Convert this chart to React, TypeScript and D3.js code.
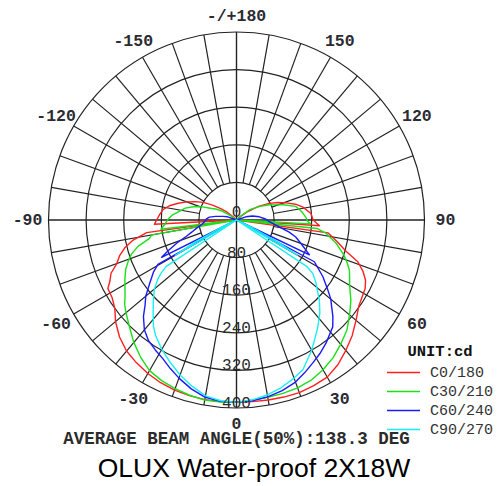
import React from 'react';
import * as d3 from 'd3';

const ringValues = [80, 160, 240, 320, 400];
const ringLabels = ['0', '80', '160', '240', '320', '400'];
const ringLabelValues = [0, 80, 160, 240, 320, 400];
const angleLabelDegs = [180, -150, 150, -120, 120, -90, 90, -60, 60, -30, 30, 0];
const angleLabelTexts = ['-/+180', '-150', '150', '-120', '120', '-90', '90', '-60', '60', '-30', '30', '0'];
const seriesNames = ['C0/180', 'C30/210', 'C60/240', 'C90/270'];

const c0_180: [number, number][] = [
  [-180, 0], [-138, 0], [-134, 10], [-130, 25], [-126, 40], [-122, 60], [-118, 80], [-114, 96], [-110, 113],
  [-106, 129], [-102, 146], [-98, 158], [-94, 164], [-90, 170], [-87, 175], [-84.5, 0], [-82, 193], [-79, 224],
  [-76, 245], [-73, 260], [-70, 271], [-67, 290], [-64, 300], [-62, 310], [-58, 312], [-54, 320], [-50, 336],
  [-45, 352], [-40, 364], [-35, 371], [-30, 377], [-25, 382], [-20, 385], [-15, 387], [-10, 388], [-5, 388],
  [0, 388], [5, 388], [10, 389], [15, 390], [20, 391], [25, 389], [30, 386], [35, 376], [40, 362], [45, 348],
  [50, 332], [55, 318], [58, 314], [62, 310], [65, 303], [68, 290], [71, 273], [74, 243], [78, 218], [82, 197],
  [84, 0], [86, 177], [90, 163], [95, 159], [101, 144], [105, 130], [109, 112], [113, 95], [117, 78], [122, 55],
  [127, 30], [132, 10], [137, 0], [180, 0],
];

const c30_210: [number, number][] = [
  [-180, 0], [-130, 0], [-126, 15], [-122, 35], [-118, 50], [-115, 58], [-111, 78], [-108, 93], [-103, 112],
  [-98, 125], [-94, 138], [-91, 145], [-87, 152], [-83, 162], [-81.5, 0], [-80, 183], [-78, 190], [-75, 217],
  [-72, 235], [-69, 247], [-66, 258], [-62, 269], [-56, 286], [-53, 298], [-50, 307], [-45, 322], [-40, 340],
  [-35, 356], [-30, 370], [-25, 377], [-20, 382], [-15, 386], [-10, 389], [-5, 389], [0, 388], [5, 385],
  [10, 383], [15, 382], [20, 380], [25, 376], [30, 368], [35, 358], [40, 345], [45, 332], [48, 321], [52, 307],
  [55, 297], [60, 278], [63, 270], [66, 263], [69, 252], [72, 240], [77, 217], [81.5, 193], [84, 172],
  [85.5, 0], [87, 158], [89, 151], [92, 148], [96, 142], [100, 135], [103, 129], [108, 105], [111, 90],
  [115, 77], [120, 58], [125, 42], [128, 35], [132, 15], [135, 0], [180, 0],
];

const c60_240: [number, number][] = [
  [-180, 0], [-115, 0], [-110, 20], [-105, 30], [-100, 45], [-96, 58], [-92, 64], [-87, 68], [-83, 74],
  [-78, 88], [-75, 98], [-72, 112], [-69, 135], [-66, 158], [-63.5, 178], [-62, 0], [-60.5, 192], [-58, 208],
  [-54, 228], [-50, 252], [-47, 266], [-44, 285], [-40, 305], [-36, 318], [-32, 326], [-28, 334], [-24, 346],
  [-20, 358], [-15, 372], [-10, 383], [-5, 387], [0, 388], [5, 386], [10, 382], [15, 376], [20, 367],
  [24, 356], [28, 345], [32, 335], [36, 324], [42, 306], [45, 290], [48, 272], [50, 262], [52.5, 245],
  [56.7, 220], [61.8, 188], [63, 0], [64.5, 172], [66.6, 161], [70, 146], [74, 131], [77, 115], [81, 92],
  [87, 70], [92, 62], [98, 49], [104, 35], [109, 21], [115, 0], [180, 0],
];

const c90_270: [number, number][] = [
  [-180, 0], [-66, 0], [-64, 40], [-62, 100], [-60, 150], [-58, 0], [-56.5, 180], [-55, 195], [-53, 210],
  [-50, 228], [-46, 246], [-42, 265], [-38, 287], [-35, 300], [-30, 318], [-25, 334], [-20, 351], [-15, 366],
  [-10, 380], [-5, 386], [0, 388], [5, 384], [10, 378], [15, 369], [20, 358], [24, 348], [30, 320], [34, 300],
  [37, 287], [42, 265], [46, 245], [49, 228], [52, 214], [55, 198], [56.5, 180], [58, 0], [60, 150],
  [62, 100], [64, 40], [66, 0], [180, 0],
];

const seriesData = [c0_180, c30_210, c60_240, c90_270];
const seriesColors = ['#ff1f1f', '#19e019', '#1a1aff', '#19eef2'];

const CX = 236.5;
const CY = 220;
const R = 188;
const MONO = '"Liberation Mono", "DejaVu Sans Mono", monospace';

export default function App() {
  const r = d3.scaleLinear().domain([0, 400]).range([0, R]);
  const line = d3
    .lineRadial<[number, number]>()
    .angle((d) => Math.PI - (d[0] * Math.PI) / 180)
    .radius((d) => r(d[1]))
    .curve(d3.curveLinear);

  const spokes = d3.range(-180, 180, 10);
  const rad = (deg: number) => (deg * Math.PI) / 180;

  return (
    <svg
      width={500}
      height={486}
      style={{ position: 'absolute', left: 0, top: 0, background: '#fff' }}
    >
      <rect x={0} y={0} width={500} height={486} fill="#fff" />
      <g transform={`translate(${CX},${CY})`}>
        {ringValues.map((v) => (
          <circle key={v} r={r(v)} fill="none" stroke="#222" strokeWidth={1.2} />
        ))}
        {spokes.map((a) => {
          const inner = a % 90 === 0 ? 0 : r(ringValues[0]);
          const t = rad(a);
          return (
            <line
              key={a}
              x1={inner * Math.sin(t)}
              y1={inner * Math.cos(t)}
              x2={R * Math.sin(t)}
              y2={R * Math.cos(t)}
              stroke="#222"
              strokeWidth={a % 90 === 0 ? 1.4 : 1.2}
            />
          );
        })}
        {seriesData.map((d, i) => (
          <path
            key={seriesNames[i]}
            d={line(d) || ''}
            fill="none"
            stroke={seriesColors[i]}
            strokeWidth={1.4}
            strokeLinejoin="round"
          />
        ))}
        {ringLabelValues.map((v, i) => (
          <text
            key={'rl' + i}
            x={0}
            y={i === 0 ? -3 : r(v)}
            textAnchor="middle"
            fontFamily={MONO}
            fontSize={16}
            fill="#2a2a2a"
          >
            {ringLabels[i]}
          </text>
        ))}
        {angleLabelDegs.map((a, i) => {
          const t = rad(a);
          const lr = 204 + 5 * Math.abs(Math.sin(t));
          return (
            <text
              key={'al' + i}
              x={lr * Math.sin(t)}
              y={lr * Math.cos(t) + 5}
              textAnchor="middle"
              fontFamily={MONO}
              fontSize={16.5}
              fontWeight="bold"
              fill="#2b2b33"
            >
              {angleLabelTexts[i]}
            </text>
          );
        })}
      </g>
      <g>
        <text x={440} y={356} textAnchor="middle" fontFamily={MONO} fontSize={15.5} fontWeight="bold" fill="#111">
          UNIT:cd
        </text>
        {seriesNames.map((n, i) => (
          <g key={n} transform={`translate(0,${372.5 + i * 19})`}>
            <line x1={387} x2={420} y1={0} y2={0} stroke={seriesColors[i]} strokeWidth={1.6} />
            <text x={430} y={4.5} fontFamily={MONO} fontSize={15} fill="#333">
              {n}
            </text>
          </g>
        ))}
      </g>
      <text x={236.5} y={444} textAnchor="middle" fontFamily={MONO} fontSize={17.5} fontWeight="bold" fill="#2b2b2b">
        AVERAGE BEAM ANGLE(50%):138.3 DEG
      </text>
      <text x={254} y={477} textAnchor="middle" fontFamily='"Liberation Sans", Arial, sans-serif' fontSize={26.5} fill="#000">
        OLUX Water-proof 2X18W
      </text>
    </svg>
  );
}
